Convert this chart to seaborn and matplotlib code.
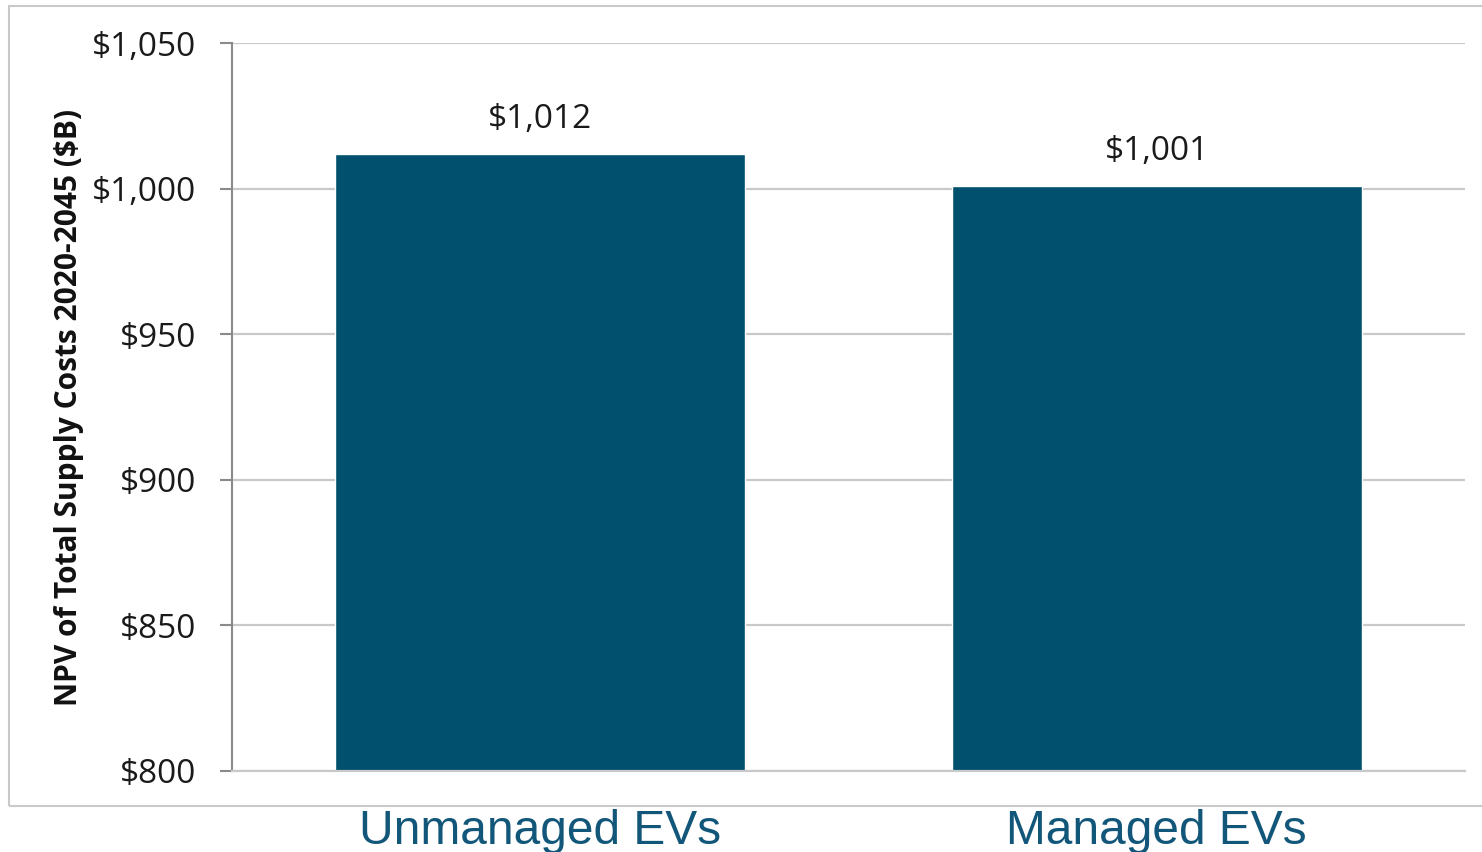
import seaborn as sns
import matplotlib.pyplot as plt
from matplotlib.patches import Rectangle

# data
categories = ['Unmanaged EVs', 'Managed EVs']
npv_costs = [1012, 1001]
y_ticks = [800, 850, 900, 950, 1000, 1050]

bar_color = '#00506e'
label_color = '#12577a'
grid_color = '#c9c9c9'

sns.set_style('white')
plt.rcParams['font.family'] = ['Open Sans', 'DejaVu Sans']

fig = plt.figure(figsize=(14.82, 8.52), dpi=100)
ax = fig.add_axes([0.1565, 0.0951, 0.832, 0.8544])

# plotting
sns.barplot(x=categories, y=npv_costs, color=bar_color, width=0.665,
            saturation=1, ax=ax)

ax.set_ylim(800, 1050)
ax.set_yticks(y_ticks)
ax.set_yticklabels(['${:,}'.format(v) for v in y_ticks], fontsize=24, color='#1a1a1a')
ax.set_xlim(-0.5, 1.5)

ax.yaxis.grid(True, color=grid_color, linewidth=1.6)
ax.set_axisbelow(True)

for side in ['top', 'right']:
    ax.spines[side].set_visible(False)
ax.spines['left'].set_color('#8a8a8a')
ax.spines['left'].set_linewidth(1.5)
ax.spines['bottom'].set_color(grid_color)
ax.spines['bottom'].set_linewidth(1.6)

ax.tick_params(axis='y', left=True, length=8.5, width=1.5, color='#8a8a8a', pad=17)
ax.tick_params(axis='x', bottom=False, pad=24)
for lbl in ax.get_xticklabels():
    lbl.set_fontfamily(['Liberation Sans', 'DejaVu Sans'])
    lbl.set_fontsize(34.5)
    lbl.set_color(label_color)

ax.set_xlabel('')
ax.set_ylabel('NPV of Total Supply Costs 2020-2045 ($B)', fontsize=21.5,
              fontweight='bold', color='#111111', labelpad=6)

ax.bar_label(ax.containers[0], labels=['${:,}'.format(v) for v in npv_costs],
             fontsize=24, color='#1a1a1a', padding=13)

# outer frame of the chart area
fig.patches.append(Rectangle((9 / 1482, 1 - 806 / 852), 1.0, (806 - 6) / 852,
                             transform=fig.transFigure, fill=False,
                             edgecolor=grid_color, linewidth=1.5, clip_on=False))

fig.savefig('out.png', dpi=100)
